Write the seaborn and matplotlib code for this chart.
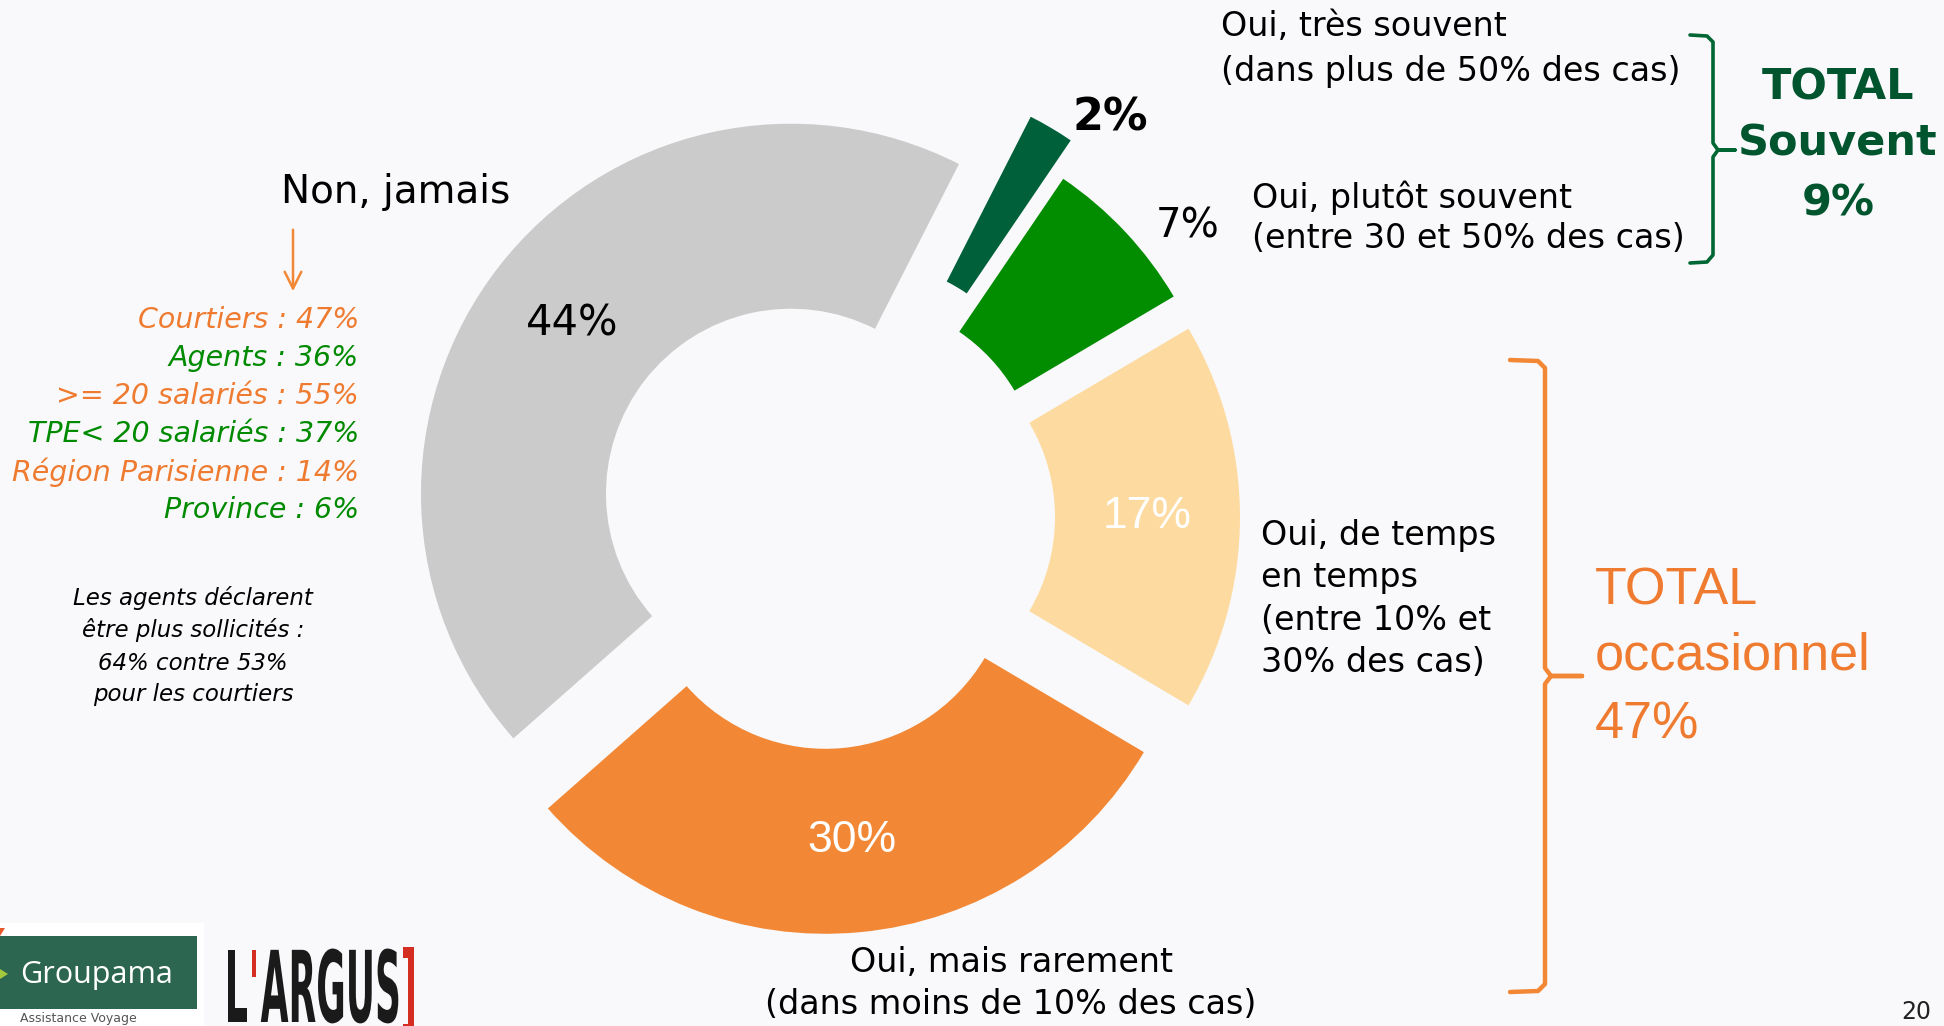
import numpy as np
import matplotlib
matplotlib.use("Agg")
import matplotlib.pyplot as plt
import seaborn as sns
from matplotlib.patches import Rectangle, Polygon, PathPatch
from matplotlib.textpath import TextPath
from matplotlib.font_manager import FontProperties
from matplotlib.transforms import Affine2D

# Data
categories = ["Oui, très souvent", "Oui, plutôt souvent", "Oui, de temps en temps",
              "Oui, mais rarement", "Non, jamais"]
shares = [2, 7, 17, 30, 44]
pct_labels = [f"{v}%" for v in shares]
slice_colors = ["#00603a", "#028c00", "#fddba0", "#f28835", "#cbcbcb"]
explode_px = [82, 47, 49, 47, 38]

segments = ["Courtiers", "Agents", ">= 20 salariés", "TPE< 20 salariés",
            "Région Parisienne", "Province"]
segment_values = [47, 36, 55, 37, 14, 6]

total_souvent = shares[0] + shares[1]
total_occasionnel = shares[2] + shares[3]

ORANGE = "#ef7b30"
GREEN = "#008a00"
DARK_GREEN = "#00552e"
BG = "#f9f9fb"

sns.set_theme(style="white")
plt.rcParams["font.family"] = ["DejaVu Sans"]
plt.rcParams["text.color"] = "black"

W, H = 1944, 1026
fig = plt.figure(figsize=(W / 100, H / 100), dpi=100, facecolor=BG)
ax = fig.add_axes([0, 0, 1, 1])
ax.set_facecolor(BG)


def Y(y):
    # pixel row (from top) -> data y (from bottom)
    return H - y


# donut
wedges, _ = ax.pie(shares, colors=slice_colors, startangle=63.0, counterclock=False,
                   radius=370, center=(821, Y(517)), explode=explode_px,
                   wedgeprops=dict(width=185, edgecolor="none"), frame=True)
ax.set_xlim(0, W)
ax.set_ylim(0, H)
ax.set_aspect("auto")
ax.axis("off")

# labels inside the big wedges, at mid ring
inside = {2: dict(color="white", family="Liberation Sans", size=32),
          3: dict(color="white", family="Liberation Sans", size=32),
          4: dict(color="black", family="DejaVu Sans", size=30)}
for i, kw in inside.items():
    w = wedges[i]
    ang = np.deg2rad((w.theta1 + w.theta2) / 2)
    rm = w.r - w.width / 2
    cx, cy = w.center
    ax.text(cx + rm * np.cos(ang), cy + rm * np.sin(ang), pct_labels[i],
            ha="center", va="center", color=kw["color"], fontsize=kw["size"],
            family=kw["family"])

ax.text(1110, Y(118), pct_labels[0], ha="center", va="center", fontsize=32,
        fontweight="bold", color="black")
ax.text(1188, Y(226), pct_labels[1], ha="center", va="center", fontsize=29, color="black")


def lines(x, ys, texts, **kw):
    for yy, t in zip(ys, texts):
        ax.text(x, Y(yy), t, va="center", **kw)


lines(1221, [27, 71], ["Oui, très souvent", "(dans plus de 50% des cas)"], ha="left", fontsize=24)
lines(1252, [198, 239], ["Oui, plutôt souvent", "(entre 30 et 50% des cas)"], ha="left", fontsize=24)
lines(1261, [536, 578, 620, 663], ["Oui, de temps", "en temps", "(entre 10% et", "30% des cas)"],
      ha="left", fontsize=24)
lines(1011, [963, 1004], ["Oui, mais rarement", "(dans moins de 10% des cas)"], ha="center", fontsize=24)
ax.text(396, Y(192), categories[4], ha="center", va="center", fontsize=28)

# totals with brackets
lines(1838, [88, 143, 203], ["TOTAL", "Souvent", f"{total_souvent}%"], ha="center",
      fontsize=31, fontweight="bold", color=DARK_GREEN)
lines(1595, [591, 656, 725], ["TOTAL", "occasionnel", f"{total_occasionnel}%"], ha="left",
      fontsize=37.5, family="Liberation Sans", color=ORANGE)

gx = [1690, 1707, 1713, 1713, 1718, 1735, 1718, 1713, 1713, 1707, 1690]
gy = [35, 36, 42, 143, 150, 150, 150, 157, 255, 262, 263]
ax.plot(gx, [Y(v) for v in gy], color="#006633", lw=2.6, solid_joinstyle="round")
ox = [1510, 1538, 1545, 1545, 1551, 1582, 1551, 1545, 1545, 1538, 1510]
oy = [360, 361, 368, 668, 676, 676, 676, 684, 984, 991, 992]
ax.plot(ox, [Y(v) for v in oy], color="#f28835", lw=3.2, solid_joinstyle="round")

# breakdown of "Non, jamais"
ax.annotate("", xy=(293, Y(294)), xytext=(293, Y(227)),
            arrowprops=dict(arrowstyle="->", color="#f28835", lw=1.8, mutation_scale=30))
for k, (name, val) in enumerate(zip(segments, segment_values)):
    ax.text(359, Y(320 + 38 * k), f"{name} : {val}%", ha="right", va="center",
            fontsize=20.5, style="italic", color=ORANGE if k % 2 == 0 else GREEN)
lines(193, [598, 630, 663, 695],
      ["Les agents déclarent", "être plus sollicités :", "64% contre 53%", "pour les courtiers"],
      ha="center", fontsize=16.5, style="italic", color="black")

# logos
ax.add_patch(Rectangle((0, 0), 204, Y(923), color="white", lw=0))
ax.add_patch(Rectangle((0, Y(1009)), 197, 73, color="#2c6651", lw=0))
ax.add_patch(Polygon([(0, Y(969)), (8, Y(974)), (0, Y(979))], closed=True, color="#a4c83c", lw=0))
ax.add_patch(Polygon([(0, Y(928)), (5, Y(928)), (0, Y(936))], closed=True, color="#e8582a", lw=0))
ax.text(97, Y(975), "Groupama", ha="center", va="center", fontsize=22,
        family="Open Sans", color="white")
ax.text(20, Y(1025), "Assistance Voyage", ha="left", va="bottom", fontsize=9, color="#555555")

fp = FontProperties(family="DejaVu Sans", weight="bold")
x = 228
for s, c in [("L", "#1a1a1a"), ("'", "#d42e22"), ("ARGUS", "#1a1a1a"), ("]", "#d42e22")]:
    tp = TextPath((0, 0), s, size=100, prop=fp)
    ext = tp.get_extents()
    tr = Affine2D().translate(-ext.x0, 0).scale(0.36, 0.99).translate(x, Y(1022))
    ax.add_patch(PathPatch(tr.transform_path(tp), color=c, lw=0))
    x += (ext.x1 - ext.x0) * 0.36 + 5

ax.text(1916, Y(1024), "20", ha="center", va="bottom", fontsize=17, color="#222222")

fig.savefig("out.png", dpi=100, facecolor=BG)
